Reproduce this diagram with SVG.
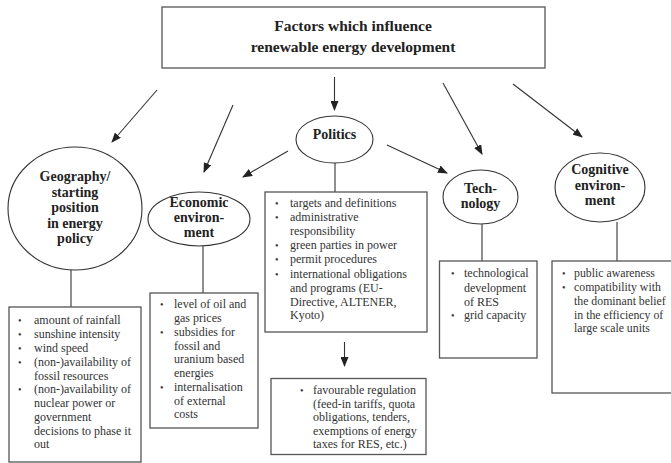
<svg xmlns="http://www.w3.org/2000/svg" width="671" height="463" viewBox="0 0 671 463">
<defs>
<marker id="ah" markerWidth="10" markerHeight="8" refX="9" refY="4" orient="auto" markerUnits="userSpaceOnUse">
<path d="M0,0 L10,4 L0,8 Z" fill="#222"/>
</marker>
<style>
.box{fill:#fff;stroke:#555;stroke-width:1.3}
.ell{fill:#fff;stroke:#333;stroke-width:1.1}
.ln{stroke:#333;stroke-width:1.1;fill:none}
.ar{stroke:#333;stroke-width:1.1;fill:none;marker-end:url(#ah)}
.h{font-family:"Liberation Serif","Times New Roman",serif;font-weight:bold;font-size:14px;fill:#222;text-anchor:middle}
.t{font-family:"Liberation Serif","Times New Roman",serif;font-size:12px;fill:#333}
.b{font-family:"Liberation Serif","Times New Roman",serif;font-size:10px;fill:#333}
</style>
</defs>
<rect width="671" height="463" fill="#fff"/>
<g id="connectors">
<line class="ar" x1="157" y1="90" x2="112" y2="142"/>
<line class="ar" x1="233" y1="105" x2="204" y2="172"/>
<line class="ar" x1="334.5" y1="77" x2="334.5" y2="110"/>
<line class="ar" x1="443" y1="83" x2="482" y2="154"/>
<line class="ar" x1="513" y1="84" x2="582" y2="137"/>
<line class="ar" x1="288" y1="151" x2="243" y2="177"/>
<line class="ar" x1="387" y1="145" x2="447" y2="173"/>
<line class="ln" x1="71" y1="270" x2="71" y2="307"/>
<line class="ln" x1="203" y1="246" x2="203" y2="293"/>
<line class="ln" x1="335" y1="163" x2="335" y2="192"/>
<line class="ln" x1="482" y1="224" x2="482" y2="261"/>
<line class="ln" x1="617" y1="222" x2="617" y2="261"/>
<line class="ar" x1="344.5" y1="342" x2="344.5" y2="366"/>
</g>
<g id="title">
<rect class="box" x="162" y="7" width="383" height="61"/>
<text class="h" style="font-size:15.5px" x="353" y="31">Factors which influence</text>
<text class="h" style="font-size:15.5px" x="353" y="52">renewable energy development</text>
</g>
<g id="politics">
<ellipse class="ell" cx="334.5" cy="139.5" rx="38.5" ry="23.5"/>
<text class="h" x="334.5" y="139">Politics</text>
</g>
<g id="geography">
<ellipse class="ell" cx="75" cy="208.5" rx="67" ry="61.5"/>
<text class="h" x="75" y="181">Geography/</text>
<text class="h" x="75" y="196.5">starting</text>
<text class="h" x="75" y="212">position</text>
<text class="h" x="75" y="227.5">in energy</text>
<text class="h" x="75" y="243">policy</text>
</g>
<g id="economic">
<ellipse class="ell" cx="199" cy="219" rx="51" ry="27"/>
<text class="h" x="199" y="207">Economic</text>
<text class="h" x="199" y="222">environ-</text>
<text class="h" x="199" y="237">ment</text>
</g>
<g id="technology">
<ellipse class="ell" cx="480.5" cy="197" rx="37.5" ry="27"/>
<text class="h" x="480.5" y="193">Tech-</text>
<text class="h" x="480.5" y="208">nology</text>
</g>
<g id="cognitive">
<ellipse class="ell" cx="600" cy="187.5" rx="45" ry="34.5"/>
<text class="h" x="600" y="174">Cognitive</text>
<text class="h" x="600" y="190">environ-</text>
<text class="h" x="600" y="205">ment</text>
</g>
<g id="geo-box">
<rect class="box" x="9" y="307" width="132" height="155"/>
<g class="b"><text x="18" y="324">•</text><text x="18" y="338">•</text><text x="18" y="352">•</text><text x="18" y="366">•</text><text x="18" y="393">•</text></g>
<g class="t">
<text x="34" y="324">amount of rainfall</text>
<text x="34" y="338">sunshine intensity</text>
<text x="34" y="352">wind speed</text>
<text x="34" y="366">(non-)availability of</text>
<text x="34" y="379.5">fossil resources</text>
<text x="34" y="393">(non-)availability of</text>
<text x="34" y="407">nuclear power or</text>
<text x="34" y="421">government</text>
<text x="34" y="435">decisions to phase it</text>
<text x="34" y="448">out</text>
</g>
</g>
<g id="econ-box">
<rect class="box" x="150" y="293" width="108" height="135"/>
<g class="b"><text x="160" y="308">•</text><text x="160" y="336">•</text><text x="160" y="391">•</text></g>
<g class="t">
<text x="174" y="308">level of oil and</text>
<text x="174" y="322">gas prices</text>
<text x="174" y="336">subsidies for</text>
<text x="174" y="349.5">fossil and</text>
<text x="174" y="363">uranium based</text>
<text x="174" y="377">energies</text>
<text x="174" y="391">internalisation</text>
<text x="174" y="404.5">of external</text>
<text x="174" y="418">costs</text>
</g>
</g>
<g id="politics-box">
<rect class="box" x="265" y="192" width="162" height="140"/>
<g class="b"><text x="275" y="207">•</text><text x="275" y="221">•</text><text x="275" y="249">•</text><text x="275" y="263">•</text><text x="275" y="278">•</text></g>
<g class="t">
<text x="290" y="207">targets and definitions</text>
<text x="290" y="221">administrative</text>
<text x="290" y="235">responsibility</text>
<text x="290" y="249">green parties in power</text>
<text x="290" y="263">permit procedures</text>
<text x="290" y="278">international obligations</text>
<text x="290" y="292">and programs (EU-</text>
<text x="290" y="306">Directive, ALTENER,</text>
<text x="290" y="319">Kyoto)</text>
</g>
</g>
<g id="regulation-box">
<rect class="box" x="271" y="378.5" width="155" height="76"/>
<text class="b" x="300" y="394">•</text>
<g class="t">
<text x="313" y="394">favourable regulation</text>
<text x="313" y="407.5">(feed-in tariffs, quota</text>
<text x="313" y="421">obligations, tenders,</text>
<text x="313" y="434.5">exemptions of energy</text>
<text x="313" y="448">taxes for RES, etc.)</text>
</g>
</g>
<g id="tech-box">
<rect class="box" x="439.5" y="261" width="97.5" height="97"/>
<g class="b"><text x="451" y="277">•</text><text x="451" y="319">•</text></g>
<g class="t">
<text x="464" y="277">technological</text>
<text x="464" y="292">development</text>
<text x="464" y="306">of RES</text>
<text x="464" y="319">grid capacity</text>
</g>
</g>
<g id="cognitive-box">
<rect class="box" x="552" y="261" width="125" height="132"/>
<g class="b"><text x="562" y="277">•</text><text x="562" y="291">•</text></g>
<g class="t" style="font-size:11.8px">
<text x="574" y="277">public awareness</text>
<text x="574" y="291">compatibility with</text>
<text x="574" y="305">the dominant belief</text>
<text x="574" y="318.5">in the efficiency of</text>
<text x="574" y="332">large scale units</text>
</g>
</g>
</svg>
